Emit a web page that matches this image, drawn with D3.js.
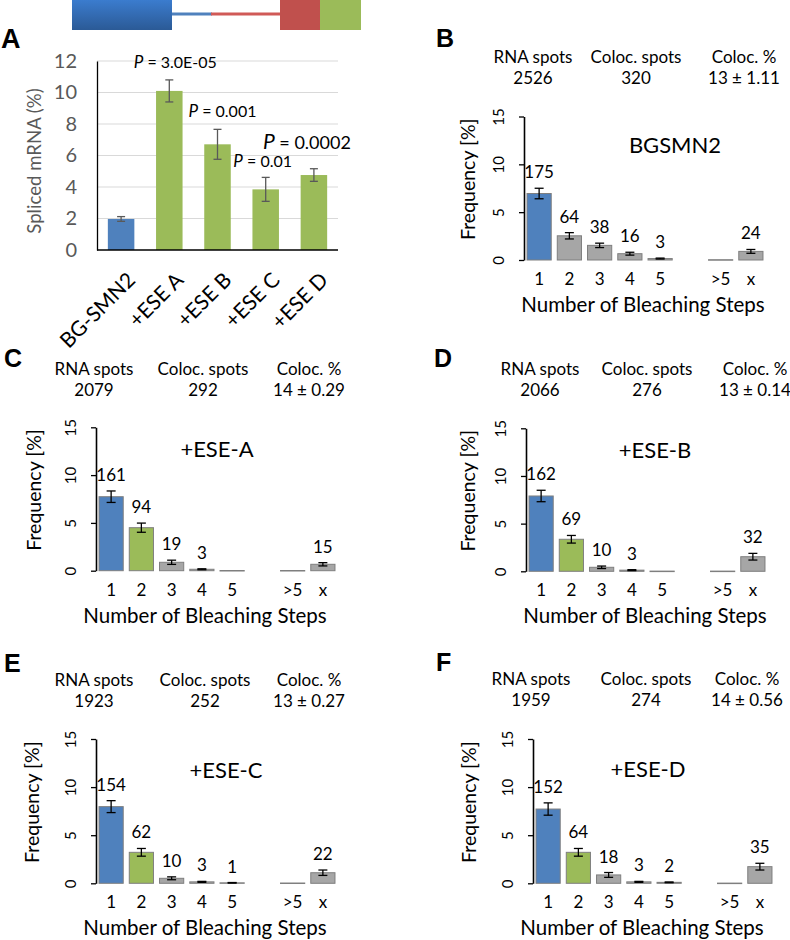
<!DOCTYPE html>
<html>
<head>
<meta charset="utf-8">
<script src="https://cdn.jsdelivr.net/npm/d3@7"></script>
<style>
  body { margin: 0; background: #fff; }
  svg { display: block; }
  text { font-family: Lato, "Open Sans", sans-serif; }
</style>
</head>
<body>
<svg id="fig" width="790" height="940"></svg>
<script>
// ---------- Panel A data ----------
const constructs = ["BG-SMN2", "+ESE A", "+ESE B", "+ESE C", "+ESE D"];
const splicedPct = [1.97, 10.1, 6.71, 3.85, 4.76];
const splicedErr = [0.15, 0.7, 0.95, 0.76, 0.4];
const pValues = ["", "3.0E-05", "0.001", "0.01", "0.0002"];
const splicedTicks = [0, 2, 4, 6, 8, 10, 12];

// ---------- Bleaching-step histograms ----------
const steps = ["1", "2", "3", "4", "5", ">5", "x"];
const stepSlots = ["1", "2", "3", "4", "5", "gap", ">5", "x"];
const freqTicks = [0, 5, 10, 15];

const histTitles = ["BGSMN2", "+ESE-A", "+ESE-B", "+ESE-C", "+ESE-D"];
const rnaSpots = ["2526", "2079", "2066", "1923", "1959"];
const colocSpots = ["320", "292", "276", "252", "274"];
const colocPct = ["13 ± 1.11", "14 ± 0.29", "13 ± 0.14", "13 ± 0.27", "14 ± 0.56"];

const bgsmn2Freq = [6.95, 2.53, 1.53, 0.66, 0.15, 0.03, 0.9];
const bgsmn2Err = [0.55, 0.33, 0.23, 0.15, 0.05, 0, 0.2];
const bgsmn2Counts = ["175", "64", "38", "16", "3", "", "24"];

const eseAFreq = [7.74, 4.5, 0.88, 0.15, 0.02, 0.02, 0.67];
const eseAErr = [0.6, 0.48, 0.22, 0.05, 0, 0, 0.17];
const eseACounts = ["161", "94", "19", "3", "", "", "15"];

const eseBFreq = [7.9, 3.36, 0.42, 0.12, 0.02, 0.02, 1.53];
const eseBErr = [0.6, 0.4, 0.13, 0.05, 0, 0, 0.35];
const eseBCounts = ["162", "69", "10", "3", "", "", "32"];

const eseCFreq = [7.97, 3.22, 0.52, 0.15, 0.05, 0.03, 1.1];
const eseCErr = [0.62, 0.4, 0.15, 0.05, 0.03, 0, 0.28];
const eseCCounts = ["154", "62", "10", "3", "1", "", "22"];

const eseDFreq = [7.72, 3.22, 0.87, 0.15, 0.1, 0.02, 1.73];
const eseDErr = [0.64, 0.4, 0.25, 0.05, 0.04, 0, 0.35];
const eseDCounts = ["152", "64", "18", "3", "2", "", "35"];

const histFreq = [bgsmn2Freq, eseAFreq, eseBFreq, eseCFreq, eseDFreq];
const histErr = [bgsmn2Err, eseAErr, eseBErr, eseCErr, eseDErr];
const histCounts = [bgsmn2Counts, eseACounts, eseBCounts, eseCCounts, eseDCounts];

// ---------- styles ----------
const BLUE = "#4f81bd", GREEN = "#9bbb59", GRAY = "#a6a6a6", RED = "#c0504d";
const svg = d3.select("#fig");

// ---------- gene diagram ----------
const gene = svg.append("g");
const grad = svg.append("defs").append("linearGradient")
  .attr("id", "blueGrad").attr("x1", 0).attr("y1", 0).attr("x2", 0).attr("y2", 1);
grad.append("stop").attr("offset", "0%").attr("stop-color", "#3b7cce");
grad.append("stop").attr("offset", "100%").attr("stop-color", "#2b5a96");
gene.append("rect").attr("x", 172).attr("y", 12.5).attr("width", 40).attr("height", 3).attr("fill", "#4f81bd");
gene.append("rect").attr("x", 211).attr("y", 12.5).attr("width", 70).attr("height", 3).attr("fill", "#d05a57");
gene.append("rect").attr("x", 72).attr("y", 0).attr("width", 100).attr("height", 30).attr("fill", "url(#blueGrad)");
gene.append("rect").attr("x", 280).attr("y", 0).attr("width", 40).attr("height", 30).attr("fill", RED);
gene.append("rect").attr("x", 320).attr("y", 0).attr("width", 41).attr("height", 30).attr("fill", GREEN);

// ---------- Panel letters ----------
const letters = [["A", 1, 48, 27], ["B", 436, 47, 25], ["C", 4, 367, 25], ["D", 434, 367, 25], ["E", 4, 672, 25], ["F", 436, 671, 25]];
letters.forEach(([t, x, y, s]) => {
  svg.append("text").attr("x", x).attr("y", y).text(t)
    .style("font-family", "'Liberation Sans', Arial, sans-serif")
    .style("font-weight", "bold").style("font-size", s + "px").attr("fill", "#000");
});

// ---------- Panel A ----------
(function () {
  const g = svg.append("g");
  const x = d3.scaleBand().domain(constructs).range([97, 338]).paddingInner(0.45).paddingOuter(0.225);
  const y = d3.scaleLinear().domain([0, 12]).range([250, 61]);

  g.append("g").selectAll("line").data(splicedTicks.filter(d => d > 0)).join("line")
    .attr("x1", 97).attr("x2", 338).attr("y1", d => y(d)).attr("y2", d => y(d))
    .attr("stroke", "#d9d9d9").attr("stroke-width", 1.2);

  const yAxis = d3.axisLeft(y).tickValues(splicedTicks).tickSize(0).tickPadding(20);
  const ya = g.append("g").attr("transform", "translate(97,0)").call(yAxis);
  ya.select(".domain").attr("stroke", "#000").attr("stroke-width", 1.3);
  ya.selectAll("text").style("font-size", "20px").attr("fill", "#595959").style("font-family", "Lato, sans-serif");

  g.selectAll("rect.bar").data(constructs).join("rect").attr("class", "bar")
    .attr("x", d => x(d)).attr("width", x.bandwidth())
    .attr("y", (d, i) => y(splicedPct[i])).attr("height", (d, i) => y(0) - y(splicedPct[i]))
    .attr("fill", (d, i) => i === 0 ? BLUE : GREEN);

  g.append("line").attr("x1", 97).attr("x2", 338).attr("y1", y(0)).attr("y2", y(0))
    .attr("stroke", "#000").attr("stroke-width", 1.3);

  constructs.forEach((c, i) => {
    const cx = x(c) + x.bandwidth() / 2;
    const t = y(splicedPct[i] + splicedErr[i]), b = y(splicedPct[i] - splicedErr[i]);
    const e = g.append("g").attr("stroke", "#595959").attr("stroke-width", 1.3);
    e.append("line").attr("x1", cx).attr("x2", cx).attr("y1", t).attr("y2", b);
    e.append("line").attr("x1", cx - 4).attr("x2", cx + 4).attr("y1", t).attr("y2", t);
    e.append("line").attr("x1", cx - 4).attr("x2", cx + 4).attr("y1", b).attr("y2", b);
  });

  const pOff = [0, 12, 12, 10, 20];
  const pDx = [0, 6, 5, -3, -7];
  constructs.forEach((c, i) => {
    if (!pValues[i]) return;
    const cx = x(c) + x.bandwidth() / 2 + pDx[i];
    const big = i === 4;
    const t = g.append("text").attr("x", cx).attr("y", y(splicedPct[i] + splicedErr[i]) - pOff[i])
      .attr("text-anchor", "middle").style("font-size", big ? "18px" : "16px").attr("fill", "#000");
    t.append("tspan").text("P").style("font-style", "italic").style("font-size", big ? "21px" : "17px");
    t.append("tspan").text(" = " + pValues[i]);
  });

  g.selectAll("text.xl").data(constructs).join("text").attr("class", "xl")
    .attr("transform", d => `translate(${x(d) + x.bandwidth() / 2 + 5},${271}) rotate(-45)`)
    .attr("text-anchor", "end").attr("dy", "0.7em")
    .style("font-size", "21px").attr("fill", "#000").text(d => d);

  g.append("text").attr("transform", "translate(41,161) rotate(-90)")
    .attr("text-anchor", "middle").style("font-size", "18.6px").attr("fill", "#595959")
    .text("Spliced mRNA (%)");
})();

// ---------- Histograms ----------
const histLayout = [
  { ax: 524, top: 116.5, bot: 260, hy: 63, hx: [533, 636, 744], tx: 675, ty: 153, xl: 643, yl: 49, c2: GRAY },
  { ax: 96, top: 427.3, bot: 570.7, hy: 375, hx: [94, 203, 309], tx: 217, ty: 456.7, xl: 205, yl: 55, c2: GREEN },
  { ax: 526, top: 428.3, bot: 571.3, hy: 375, hx: [540, 647, 755], tx: 655, ty: 457.7, xl: 645, yl: 51, c2: GREEN },
  { ax: 96, top: 739, bot: 883.3, hy: 686, hx: [94, 205, 309], tx: 226, ty: 778, xl: 205, yl: 57, c2: GREEN },
  { ax: 533, top: 739, bot: 883.3, hy: 685, hx: [531, 646, 747], tx: 648, ty: 776.7, xl: 642, yl: 57, c2: GREEN }
];

histTitles.forEach((title, p) => {
  const L = histLayout[p];
  const g = svg.append("g");
  const x = d3.scaleBand().domain(stepSlots).range([L.ax, L.ax + 242]).paddingInner(0.2).paddingOuter(0.1);
  const y = d3.scaleLinear().domain([0, 15]).range([L.bot, L.top]);
  const freq = histFreq[p], err = histErr[p], counts = histCounts[p];

  const heads = [["RNA spots", rnaSpots[p]], ["Coloc. spots", colocSpots[p]], ["Coloc. %", colocPct[p]]];
  heads.forEach(([h, v], k) => {
    g.append("text").attr("x", L.hx[k]).attr("y", L.hy).attr("text-anchor", "middle")
      .style("font-size", "17px").attr("fill", "#000").text(h);
    g.append("text").attr("x", L.hx[k]).attr("y", L.hy + 21).attr("text-anchor", "middle")
      .style("font-size", "17px").attr("fill", "#000").text(v);
  });

  const yAxis = d3.axisLeft(y).tickValues(freqTicks).tickSize(5).tickSizeOuter(0).tickPadding(0);
  const ya = g.append("g").attr("transform", `translate(${L.ax},0)`).call(yAxis);
  ya.select(".domain").attr("stroke", "#000").attr("stroke-width", 1.6);
  ya.selectAll(".tick line").attr("stroke", "#000").attr("stroke-width", 1.3);
  ya.selectAll(".tick text").remove();
  ya.selectAll(".tick").append("text")
    .attr("transform", "translate(-25,0) rotate(-90)").attr("text-anchor", "middle")
    .attr("dy", "0.35em").attr("fill", "#000").style("font-size", "15px")
    .style("font-family", "Lato, sans-serif").text(d => d);

  g.selectAll("rect.bar").data(steps).join("rect").attr("class", "bar")
    .attr("x", d => x(d)).attr("width", x.bandwidth())
    .attr("y", (d, i) => y(freq[i])).attr("height", (d, i) => Math.max(0.5, y(0) - y(freq[i])))
    .attr("fill", (d, i) => i === 0 ? BLUE : (i === 1 ? L.c2 : GRAY))
    .attr("stroke", "#7f7f7f").attr("stroke-width", 1);

  steps.forEach((s, i) => {
    if (!err[i]) return;
    const cx = x(s) + x.bandwidth() / 2;
    const t = y(freq[i] + err[i]), b = y(Math.max(0, freq[i] - err[i]));
    const e = g.append("g").attr("stroke", "#000").attr("stroke-width", 1.3);
    e.append("line").attr("x1", cx).attr("x2", cx).attr("y1", t).attr("y2", b);
    e.append("line").attr("x1", cx - 4.5).attr("x2", cx + 4.5).attr("y1", t).attr("y2", t);
    e.append("line").attr("x1", cx - 4.5).attr("x2", cx + 4.5).attr("y1", b).attr("y2", b);
  });

  steps.forEach((s, i) => {
    if (!counts[i]) return;
    g.append("text").attr("x", x(s) + x.bandwidth() / 2).attr("y", y(freq[i] + err[i]) - 10)
      .attr("text-anchor", "middle").style("font-size", "17px").attr("fill", "#000").text(counts[i]);
  });

  g.selectAll("text.xt").data(steps).join("text").attr("class", "xt")
    .attr("x", d => x(d) + x.bandwidth() / 2).attr("y", L.bot + 25)
    .attr("text-anchor", "middle").style("font-size", "17px").attr("fill", "#000").text(d => d);

  g.append("text").attr("x", L.xl).attr("y", L.bot + 52).attr("text-anchor", "middle")
    .style("font-size", "20.5px").attr("fill", "#000").text("Number of Bleaching Steps");

  g.append("text").attr("transform", `translate(${L.ax - L.yl},${(L.top + L.bot) / 2 - 9}) rotate(-90)`)
    .attr("text-anchor", "middle").style("font-size", "19.5px").attr("fill", "#000").text("Frequency [%]");

  g.append("text").attr("x", L.tx).attr("y", L.ty).attr("text-anchor", "middle")
    .style("font-size", "22px").attr("fill", "#000").text(title);
});
</script>
</body>
</html>
